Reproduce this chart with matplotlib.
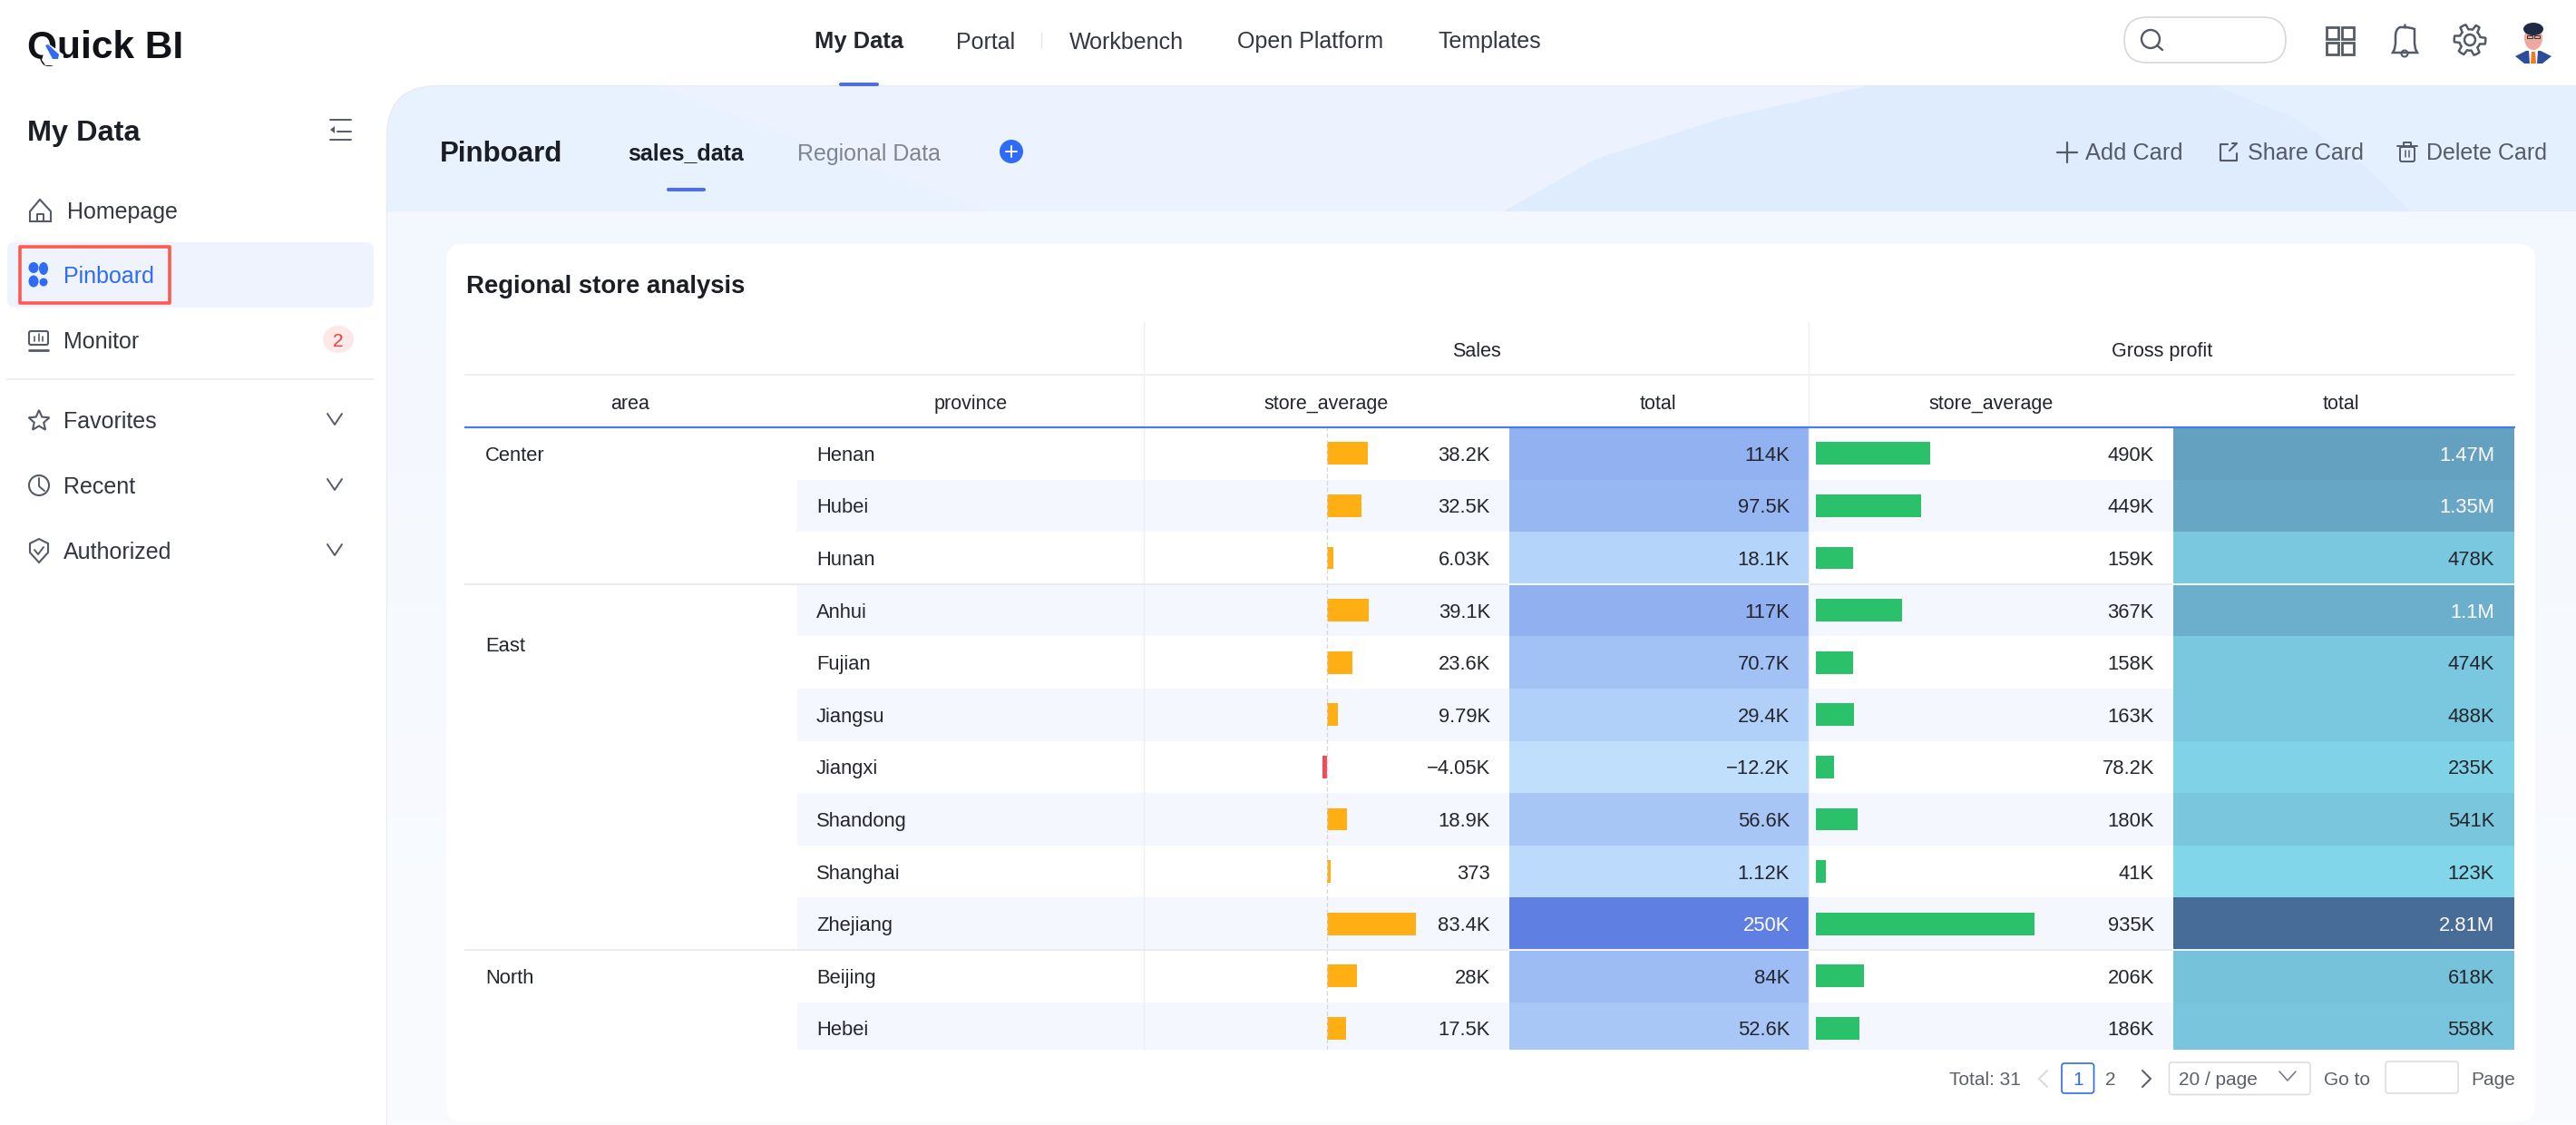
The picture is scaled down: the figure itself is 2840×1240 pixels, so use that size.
import numpy as np
import matplotlib
matplotlib.use("Agg")
import matplotlib.pyplot as plt
from matplotlib.patches import FancyBboxPatch, Rectangle, Circle, Ellipse, Polygon, PathPatch
from matplotlib.path import Path
from matplotlib.colors import LinearSegmentedColormap, Normalize

plt.rcParams['font.family'] = ['Liberation Sans', 'DejaVu Sans']

# ---------- data ----------
areas = ["Center", "East", "North"]
area_label_rows = [0, 3.65, 10]
provinces = ["Henan", "Hubei", "Hunan", "Anhui", "Fujian", "Jiangsu", "Jiangxi",
             "Shandong", "Shanghai", "Zhejiang", "Beijing", "Hebei"]
sales_avg = [38.2, 32.5, 6.03, 39.1, 23.6, 9.79, -4.05, 18.9, 0.373, 83.4, 28, 17.5]
sales_total = [114, 97.5, 18.1, 117, 70.7, 29.4, -12.2, 56.6, 1.12, 250, 84, 52.6]
gp_avg = [490, 449, 159, 367, 158, 163, 78.2, 180, 41, 935, 206, 186]
gp_total = [1470, 1350, 478, 1100, 474, 488, 235, 541, 123, 2810, 618, 558]
sales_avg_labels = ["38.2K", "32.5K", "6.03K", "39.1K", "23.6K", "9.79K", "\u22124.05K",
                    "18.9K", "373", "83.4K", "28K", "17.5K"]
sales_total_labels = ["114K", "97.5K", "18.1K", "117K", "70.7K", "29.4K", "\u221212.2K",
                      "56.6K", "1.12K", "250K", "84K", "52.6K"]
gp_avg_labels = ["490K", "449K", "159K", "367K", "158K", "163K", "78.2K", "180K", "41K",
                 "935K", "206K", "186K"]
gp_total_labels = ["1.47M", "1.35M", "478K", "1.1M", "474K", "488K", "235K", "541K", "123K",
                   "2.81M", "618K", "558K"]
top_nav = ["My Data", "Portal", "Workbench", "Open Platform", "Templates"]
side_items = ["Homepage", "Pinboard", "Monitor", "Favorites", "Recent", "Authorized"]

# ---------- layout (pixels) ----------
W, H = 2840, 1240
ROW_TOP, ROW_H, TBL_BOTTOM = 471, 57.6, 1157
X_L, X_PROV, X_SALES, X_ST, X_GP, X_GT, X_R = 513, 879, 1261, 1663.5, 1994, 2396, 2772
TXT = "#23262D"
GREY = "#555B66"
BLUE = "#2E6BF6"
LINE = "#EBEDF0"

fig = plt.figure(figsize=(W / 100, H / 100), dpi=100, facecolor="white")
ax = fig.add_axes([0, 0, 1, 1])
ax.set_xlim(0, W)
ax.set_ylim(H, 0)
ax.axis("off")


def a_text(a, x, y, s, size, color, ha, weight, z):
    return a.text(x, y, s, fontsize=size, color=color, ha=ha, va="center_baseline",
                  fontweight=weight, zorder=z)


def t(x, y, s, size=18, color=TXT, ha="left", weight="normal", z=20):
    return a_text(ax, x, y, s, size, color, ha, weight, z)


def rbox(x0, y0, x1, y1, r, fc="none", ec="none", lw=0, z=2):
    p = FancyBboxPatch((x0 + r, y0 + r), x1 - x0 - 2 * r, y1 - y0 - 2 * r,
                       boxstyle=f"round,pad={r},rounding_size={r}", fc=fc, ec=ec, lw=lw, zorder=z)
    ax.add_patch(p)
    return p


def ln(xs, ys, c=GREY, lw=1.5, z=6, **kw):
    ax.plot(xs, ys, color=c, lw=lw, zorder=z, solid_capstyle=kw.pop("cap", "round"), **kw)


def chevron(cx, cy, w=8, h=6, c=GREY, lw=1.4):
    ln([cx - w, cx, cx + w], [cy - h, cy + h, cy - h], c=c, lw=lw)


# ---------- canvas background ----------
bg = rbox(427, 95, W + 80, H + 80, 55, fc="#F5F8FE", ec="#E3E6EB", lw=1.2, z=1)
grad = np.linspace(0, 1, 256).reshape(-1, 1)
cm_bg = LinearSegmentedColormap.from_list("bgv", ["#F3F8FE", "#FAFBFE"])
im = ax.imshow(grad, extent=(427, W, H, 234), cmap=cm_bg, aspect="auto", zorder=1.1)
im.set_clip_path(bg)
hd = Rectangle((427, 95), W - 427, 138, fc="#E8F2FE", ec="none", zorder=1.2)
ax.add_patch(hd)
hd.set_clip_path(bg)
hill_l = np.array([(1658, 233), (1760, 175), (1900, 130), (2058, 95)])
hill_r = np.array([(2443, 95), (2530, 130), (2610, 185), (2658, 233)])
shapes = [
    (np.vstack([[(727, 95)], [(1089, 233)], hill_l]), "#EDF3FE"),
    (np.vstack([[(2058, 95)], [(2443, 95)], hill_r[1:], [(1658, 233)], hill_l[1:-1]]), "#DEECFD"),
    (np.vstack([hill_r, [(W, 233)], [(W, 95)]]), "#E4F0FE"),
]
for pts, col in shapes:
    pg = Polygon(pts, fc=col, ec="none", zorder=1.3)
    ax.add_patch(pg)
    pg.set_clip_path(bg)
ax.set_xlim(0, W)
ax.set_ylim(H, 0)

# ---------- top bar ----------
t(30, 48.5, "Quick BI", size=30.5, color="#111318", weight="bold")
ax.add_patch(Polygon([(52, 47), (70, 60), (70, 72), (50, 72), (46, 66)], fc="white", ec="none", zorder=21))
ax.add_patch(Polygon([(50, 50), (53, 49), (65, 60), (64, 65), (58, 65)], fc=BLUE, ec="none", zorder=22))
nav_x = [898, 1054, 1179, 1364, 1585]
for i, (nx, s) in enumerate(zip(nav_x, top_nav)):
    t(nx, 44, s, size=18.4 if i == 0 else 18, weight="bold" if i == 0 else "normal",
      color=TXT if i == 0 else "#33373F")
ln([1148, 1148], [36, 52], c="#E3E5EA", lw=1)
rbox(925, 91, 969, 95, 2, fc="#4A6CF7", z=5)
rbox(2342, 19, 2520, 69, 25, fc="white", ec="#D6D8DC", lw=1.2)
ax.add_patch(Circle((2371, 43), 10, fc="none", ec=GREY, lw=1.7, zorder=6))
ln([2378, 2384], [50, 55], lw=1.7)
for dx in (0, 17):
    for dy in (0, 17):
        ax.add_patch(Rectangle((2565 + dx, 30 + dy), 13, 13, fc="none", ec=GREY, lw=2, zorder=6))
bell = Path([(2638, 58), (2640, 54), (2641, 48), (2641, 40), (2641, 32), (2646, 30), (2651, 30),
             (2656, 30), (2662, 32), (2662, 40), (2662, 48), (2663, 54), (2665, 58), (2638, 58)],
            [Path.MOVETO, Path.LINETO, Path.LINETO, Path.LINETO, Path.CURVE3, Path.CURVE3, Path.LINETO,
             Path.CURVE3, Path.CURVE3, Path.LINETO, Path.LINETO, Path.LINETO, Path.LINETO, Path.CLOSEPOLY])
ax.add_patch(PathPatch(bell, fc="none", ec=GREY, lw=1.8, zorder=6))
ln([2651, 2651], [27, 30], lw=1.8)
ax.add_patch(Circle((2651, 59), 3.5, fc="none", ec=GREY, lw=1.5, zorder=6))
ang = np.linspace(0, 2 * np.pi, 49)
rad = 14.5 + 2.8 * np.sign(np.cos(6 * ang))
ax.add_patch(Polygon(np.c_[2723 + rad * np.cos(ang), 44 + rad * np.sin(ang)], fc="none", ec=GREY,
                     lw=1.8, joinstyle="round", zorder=6))
ax.add_patch(Circle((2723, 44), 6, fc="none", ec=GREY, lw=1.8, zorder=6))
# avatar
ax.add_patch(Polygon([(2773, 62), (2785, 56), (2801, 56), (2813, 62), (2803, 70), (2783, 70)],
                     fc="#2B4E9B", ec="none", zorder=6))
ax.add_patch(Polygon([(2788, 56), (2798, 56), (2797, 70), (2789, 70)], fc="white", ec="none", zorder=7))
ax.add_patch(Polygon([(2791, 57), (2795, 57), (2796, 70), (2790, 70)], fc="#F47A1F", ec="none", zorder=8))
ax.add_patch(Ellipse((2793, 42), 20, 26, fc="#EDA8A0", ec="none", zorder=7))
ax.add_patch(Ellipse((2793, 32), 22, 14, fc="#1F2A44", ec="none", zorder=8))
ax.add_patch(Rectangle((2786, 39), 6, 3, fc="none", ec="#333", lw=0.7, zorder=9))
ax.add_patch(Rectangle((2794, 39), 6, 3, fc="none", ec="#333", lw=0.7, zorder=9))

# ---------- sidebar ----------
t(30, 144, "My Data", size=23.4, color="#1B1E25", weight="bold")
for yy, x0 in [(132, 364), (145, 372), (154, 364)]:
    ln([x0, 387], [yy, yy], lw=1.4)
ax.add_patch(Polygon([(369, 139), (369, 147), (364, 143)], fc=GREY, ec="none", zorder=6))
rbox(8, 267, 412, 339, 8, fc="#EFF3FD", z=2)
rbox(22, 272, 187, 334, 0.1, fc="none", ec="#FF5A50", lw=2.6, z=7)
ax.plot([8, 412], [418, 418], color=LINE, lw=1.2, zorder=3)
side_y = [231, 302, 375, 463, 535, 607]
side_x = [74, 70, 70, 70, 70, 70]
for i, (s, sx, sy) in enumerate(zip(side_items, side_x, side_y)):
    t(sx, sy, s, color=BLUE if s == "Pinboard" else "#33373F", weight="normal")
for sy in side_y[3:]:
    chevron(369, sy - 1)
# home
ax.add_patch(Polygon([(33, 233), (44, 220), (56, 233), (56, 244), (33, 244)], fc="none", ec=GREY, lw=1.5, zorder=6))
ln([41, 41, 48, 48], [244, 236, 236, 244], lw=1.4)
# pinboard dots
for cx, cy, wd, hd_ in [(37, 295, 11, 12), (48, 296, 10, 14), (37, 310, 11, 13), (48, 311, 9, 9)]:
    ax.add_patch(Ellipse((cx, cy), wd, hd_, fc=BLUE, ec="none", zorder=6))
# monitor
rbox(32, 365, 53, 380, 2, ec=GREY, lw=1.5, z=6)
ln([32, 53], [386, 386], lw=2)
for px, ph in [(38, 5), (43, 8), (47, 5)]:
    ln([px, px], [376, 376 - ph], lw=1.2)
ax.add_patch(Ellipse((373, 374), 34, 30, fc="#FDE8E8", ec="none", zorder=5))
t(373, 374, "2", size=15, color="#EE3F3F", ha="center")
# star
sa = np.linspace(-np.pi / 2, 1.5 * np.pi, 11)[:-1]
sr = np.where(np.arange(10) % 2 == 0, 12, 5.5)
ax.add_patch(Polygon(np.c_[43 + sr * np.cos(sa), 464 + sr * np.sin(sa)], fc="none", ec=GREY, lw=1.5, zorder=6))
# clock
ax.add_patch(Circle((43, 535), 11, fc="none", ec=GREY, lw=1.5, zorder=6))
ln([43, 43, 49], [527, 536, 541], lw=1.4)
# shield
ax.add_patch(Polygon([(33, 599), (43, 594), (53, 599), (53, 609), (43, 620), (33, 609)], fc="none", ec=GREY, lw=1.5, zorder=6))
ln([38, 42, 48], [606, 611, 603], lw=1.4)

# ---------- header of the canvas ----------
t(485, 167, "Pinboard", size=22.5, color="#1B1E25", weight="bold")
t(692, 167, "sales_data", size=18, color="#1B1E25", weight="bold")
t(879, 167, "Regional Data", size=18, color="#80858F")
rbox(735, 207, 778, 211, 2, fc="#4A6CF7", z=5)
ax.add_patch(Circle((1115, 167), 13, fc=BLUE, ec="none", zorder=6))
ln([1109, 1121], [167, 167], c="white", lw=1.4, z=7)
ln([1115, 1115], [161, 173], c="white", lw=1.4, z=7)
t(2299, 167, "Add Card", color=GREY, size=18.3)
t(2477.5, 167, "Share Card", color=GREY, size=18)
t(2675, 167, "Delete Card", color=GREY, size=18)
ln([2268, 2290], [168, 168], lw=1.6)
ln([2279, 2279], [157, 179], lw=1.6)
ln([2456, 2448, 2448, 2466, 2466], [159, 159, 177, 177, 169], lw=1.5)
ln([2458, 2466, 2461], [166, 158, 158], lw=1.5)
rbox(2646, 162, 2662, 178, 2, ec=GREY, lw=1.4, z=6)
ln([2643, 2665], [161, 161], lw=1.4)
ln([2650, 2650, 2658, 2658], [161, 157, 157, 161], lw=1.4)
ln([2652, 2652], [166, 173], lw=1.1)
ln([2656, 2656], [166, 173], lw=1.1)

# ---------- card and table ----------
rbox(492, 269, 2795, 1236, 18, fc="white", z=2)
t(514, 313, "Regional store analysis", size=19.8, color="#1B1E25", weight="bold")

ax.plot([X_L, X_R], [413, 413], color=LINE, lw=1.3, zorder=3)
for vx in (X_SALES, X_GP):
    ax.plot([vx, vx], [355, ROW_TOP], color="#EDEFF3", lw=1.0, zorder=3)
t(1628, 385, "Sales", size=15.5, ha="center")
t(2384, 385, "Gross profit", size=15.5, ha="center")
for hx, s in zip([695, 1070, 1462, 1828, 2195, 2581],
                 ["area", "province", "store_average", "total", "store_average", "total"]):
    t(hx, 443, s, size=15.5, ha="center")


def col_axes(x0, x1):
    a = fig.add_axes([x0 / W, 1 - TBL_BOTTOM / H, (x1 - x0) / W, (TBL_BOTTOM - ROW_TOP) / H], zorder=2)
    a.set_ylim((TBL_BOTTOM - ROW_TOP) / ROW_H, 0)
    a.axis("off")
    a.patch.set_alpha(0)
    return a


rows = np.arange(len(provinces))
row_c = rows + 0.5
row_y = ROW_TOP + row_c * ROW_H

# zebra stripes drawn behind the bar columns
for x0, x1 in [(X_PROV, X_ST), (X_GP, X_GT)]:
    az = col_axes(x0, x1)
    az.set_xlim(0, 1)
    az.barh(row_c[1::2], 1, height=1, left=0, color="#F4F7FE", zorder=1)
    az.set_ylim((TBL_BOTTOM - ROW_TOP) / ROW_H, 0)

# sales store_average bars (very small values keep a visible sliver, as in the original)
PX_SA, ZERO_SA, MIN_PX = 1.175, 1463, 3.6
a1 = col_axes(X_SALES, X_ST)
a1.set_xlim((X_SALES - ZERO_SA) / PX_SA, (X_ST - ZERO_SA) / PX_SA)
sa_draw = [v if abs(v) * PX_SA >= MIN_PX else np.sign(v) * MIN_PX / PX_SA for v in sales_avg]
a1.barh(row_c, sa_draw, height=0.43,
        color=["#FFAE14" if v >= 0 else "#F5495C" for v in sales_avg], zorder=3)
a1.axvline(0, color="#D3D6DC", lw=0.9, ls=(0, (4, 2)), zorder=4)
a1.set_ylim((TBL_BOTTOM - ROW_TOP) / ROW_H, 0)

# gross profit store_average bars
PX_GA, ZERO_GA = 0.258, 2002
a2 = col_axes(X_GP, X_GT)
a2.set_xlim((X_GP - ZERO_GA) / PX_GA, (X_GT - ZERO_GA) / PX_GA)
a2.barh(row_c, gp_avg, height=0.43, color="#2BC06A", zorder=3)
a2.set_ylim((TBL_BOTTOM - ROW_TOP) / ROW_H, 0)

# heat columns
cm_s = LinearSegmentedColormap.from_list("st", ["#C0DFFD", "#5F7FE3"])
cm_g = LinearSegmentedColormap.from_list("gt", ["#82D6EA", "#466C97"])
for x0, x1, vals, cm in [(X_ST, X_GP, sales_total, cm_s), (X_GT, X_R, gp_total, cm_g)]:
    a3 = col_axes(x0, x1)
    a3.set_xlim(0, 1)
    nrm = Normalize(min(vals), max(vals))
    a3.barh(row_c, 1, height=1, left=0, color=[cm(nrm(v)) for v in vals], zorder=3)
    a3.set_ylim((TBL_BOTTOM - ROW_TOP) / ROW_H, 0)

# overlay for lines and text above the column axes
ov = fig.add_axes([0, 0, 1, 1], zorder=10)
ov.set_xlim(0, W)
ov.set_ylim(H, 0)
ov.axis("off")
ov.patch.set_alpha(0)
ov.plot([X_L, X_R], [ROW_TOP, ROW_TOP], color="#4A7CE8", lw=1.6, zorder=12)
for vx in (X_SALES, X_GP):
    ov.plot([vx, vx], [ROW_TOP, TBL_BOTTOM], color="#EDEFF3", lw=1.0, zorder=3)
for gi in (3, 10):
    gy = ROW_TOP + gi * ROW_H
    ov.plot([X_L, X_ST], [gy, gy], color="#E6E8EC", lw=1.2, zorder=3)
    ov.plot([X_GP, X_GT], [gy, gy], color="#E6E8EC", lw=1.2, zorder=3)
    ov.plot([X_ST, X_GP], [gy, gy], color="white", lw=1.3, zorder=3)
    ov.plot([X_GT, X_R], [gy, gy], color="white", lw=1.3, zorder=3)
for s, r in zip(areas, area_label_rows):
    a_text(ov, 535, ROW_TOP + (r + 0.5) * ROW_H, s, 15.8, TXT, "left", "normal", 20)
for i, y in enumerate(row_y):
    a_text(ov, 900, y, provinces[i], 15.8, TXT, "left", "normal", 20)
    a_text(ov, 1643, y, sales_avg_labels[i], 15.8, TXT, "right", "normal", 20)
    tc = "white" if sales_total[i] >= 250 else TXT
    a_text(ov, 1973, y, sales_total_labels[i], 15.8, tc, "right", "normal", 20)
    a_text(ov, 2375, y, gp_avg_labels[i], 15.8, TXT, "right", "normal", 20)
    gc = "white" if gp_total[i] >= 1000 else TXT
    a_text(ov, 2750, y, gp_total_labels[i], 15.8, gc, "right", "normal", 20)

# ---------- pagination ----------
PG = "#5C6068"
t(2149, 1188, "Total: 31", size=15, color=PG)
ln([2257, 2248, 2257], [1180, 1189, 1198], c="#D9DBDF", lw=1.5)
rbox(2273, 1172, 2308.5, 1205, 3, fc="white", ec=BLUE, lw=1.2, z=5)
t(2291, 1188, "1", size=15, color=BLUE, ha="center")
t(2327, 1188, "2", size=15, color=PG, ha="center")
ln([2362, 2371, 2362], [1180, 1189, 1198], c=PG, lw=1.5)
rbox(2391.5, 1171, 2547, 1206.5, 3, fc="white", ec="#D9DBDF", lw=1.1, z=5)
t(2402, 1188, "20 / page", size=15, color=PG)
chevron(2522, 1186, w=9, h=5, c="#7A7F88", lw=1.2)
t(2562, 1188, "Go to", size=15, color=PG)
rbox(2630, 1170, 2710, 1205, 3, fc="white", ec="#D9DBDF", lw=1.1, z=5)
t(2724, 1188, "Page", size=15, color=PG)

fig.savefig("out.png", dpi=100)
